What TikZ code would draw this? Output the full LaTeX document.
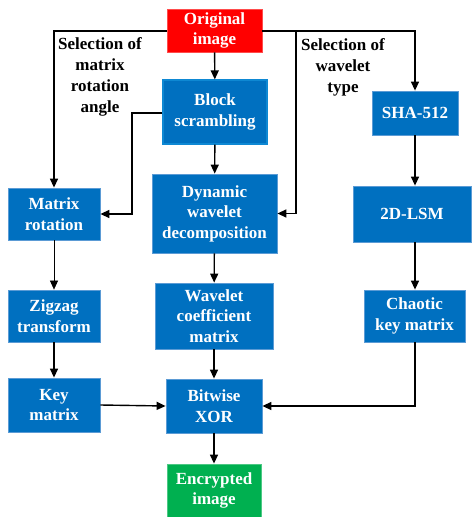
\documentclass[tikz,border=0pt]{standalone}
\usepackage{fontspec}
\setmainfont{Liberation Serif}
\usetikzlibrary{arrows.meta}
\definecolor{boxblue}{HTML}{0070C0}
\definecolor{boxedge}{HTML}{5B9BD5}
\definecolor{boxred}{HTML}{FF0000}
\definecolor{boxgreen}{HTML}{00B050}
\begin{document}
\begin{tikzpicture}[x=1pt,y=-1pt,
  box/.style={fill=boxblue,draw=boxedge,line width=0.8pt,text=white,font=\fontsize{17}{20.5}\selectfont\bfseries,align=center,inner sep=0pt,anchor=center},
  lbl/.style={font=\fontsize{17}{21}\selectfont\bfseries,align=center,inner sep=0pt},
  conn/.style={line width=1.4pt,-{Triangle[width=8pt,length=9pt]}},
  plain/.style={line width=1.4pt}]
\useasboundingbox (0,0) rectangle (472,517);
\node[box,fill=boxred,draw=boxred!70!white,minimum width=95pt,minimum height=43pt] (orig) at (214.5,30.5) {Original\\image};
\node[box,draw=cyan!70!blue,line width=1.2pt,minimum width=104pt,minimum height=64pt] (block) at (215,112) {Block\\scrambling};
\node[box,minimum width=86pt,minimum height=44pt] (sha) at (415,113) {SHA-512};
\node[box,minimum width=92pt,minimum height=52pt] (rot) at (54,214) {Matrix\\rotation};
\node[box,minimum width=125pt,minimum height=79pt] (dyn) at (214.5,213.5) {Dynamic\\wavelet\\decomposition};
\node[box,minimum width=118pt,minimum height=56pt] (lsm) at (412,214) {2D-LSM};
\node[box,minimum width=92pt,minimum height=52pt] (zig) at (54,316) {Zigzag\\transform};
\node[box,minimum width=118pt,minimum height=66pt] (coef) at (214,316) {Wavelet\\coefficient\\matrix};
\node[box,minimum width=101pt,minimum height=52pt] (chao) at (414.5,316) {Chaotic\\key matrix};
\node[box,minimum width=92pt,minimum height=54pt] (key) at (54,405) {Key\\matrix};
\node[box,minimum width=96pt,minimum height=54pt] (xor) at (214,406) {Bitwise\\XOR};
\node[box,fill=boxgreen,draw=boxgreen!70!white,minimum width=94pt,minimum height=53pt] (enc) at (214,490.5) {Encrypted\\image};
\node[lbl] (l1) at (100,77) {Selection of\\matrix\\rotation\\angle};
\node[lbl] (l2) at (343,67) {Selection of\\wavelet\\type};
\coordinate (c1) at (54,31);
\coordinate (c2) at (296,31);
\coordinate (c3) at (415,31);
\coordinate (c4) at (132,113);
\coordinate (c5) at (415,406);
\draw[conn] (orig) -- (block);
\draw[conn] (orig.west |- c1) -- (c1) -- (rot.north);
\draw[conn] (orig.east |- c2) -- (c2) -- (c2 |- dyn.east) -- (dyn.east);
\draw[conn] (c2) -- (c3) -- (sha.north);
\draw[conn] (block.west |- c4) -- (c4) -- (c4 |- rot.east) -- (rot.east);
\draw[conn] (block) -- (dyn);
\draw[conn] (dyn) -- (coef);
\draw[conn] (coef) -- (xor);
\draw[conn] (xor) -- (enc);
\draw[conn] (sha.south) -- (sha.south |- lsm.north);
\draw[conn] (lsm.south -| sha.south) -- (chao.north -| sha.south);
\draw[conn] (chao.south -| c5) -- (c5) -- (xor.east |- c5);
\draw[line width=0.6pt,-{Triangle[width=8pt,length=9pt]}] (rot) -- (zig);
\draw[conn] (zig) -- (key);
\draw[conn] (key.east) -- (xor.west);
\end{tikzpicture}
\end{document}
